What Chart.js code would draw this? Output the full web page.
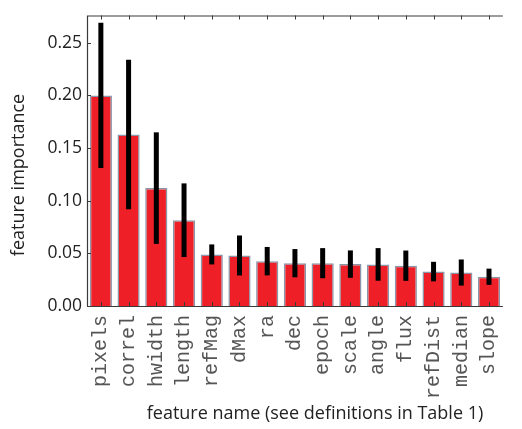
<!DOCTYPE html>
<html>
<head>
<meta charset="utf-8">
<script src="https://cdn.jsdelivr.net/npm/chart.js@4/dist/chart.umd.min.js"></script>
<style>
  html, body { margin: 0; padding: 0; background: #fff; }
  #wrap { width: 522px; height: 429px; }
</style>
</head>
<body>
<div id="wrap"><canvas id="c" width="522" height="429"></canvas></div>
<script>
// Feature names, mean importance and spread (half-length of each error bar)
const features = ['pixels', 'correl', 'hwidth', 'length', 'refMag', 'dMax', 'ra', 'dec',
                  'epoch', 'scale', 'angle', 'flux', 'refDist', 'median', 'slope'];
const importance = [0.200, 0.163, 0.112, 0.0815, 0.049, 0.048, 0.0426, 0.0407,
                    0.0407, 0.0398, 0.0395, 0.0383, 0.0327, 0.0318, 0.0278];
const spread = [0.069, 0.071, 0.053, 0.035, 0.0095, 0.019, 0.0135, 0.0134,
                0.0143, 0.013, 0.0155, 0.0144, 0.0093, 0.0124, 0.0077];
const yTicks = [0.00, 0.05, 0.10, 0.15, 0.20, 0.25];
const xTitle = 'feature name (see definitions in Table 1)';
const yTitle = 'feature importance';

const frameColor = '#3a3a3a';
const sansFont = '"Open Sans", Lato, sans-serif';

// Black error bars centred on each bar
const errorBars = {
  id: 'errorBars',
  afterDatasetsDraw(chart) {
    const ctx = chart.ctx;
    const y = chart.scales.y;
    const meta = chart.getDatasetMeta(0);
    ctx.save();
    ctx.strokeStyle = '#000';
    ctx.lineWidth = 5;
    ctx.lineCap = 'butt';
    meta.data.forEach((bar, i) => {
      const v = importance[i], e = spread[i];
      ctx.beginPath();
      ctx.moveTo(bar.x, y.getPixelForValue(v + e));
      ctx.lineTo(bar.x, y.getPixelForValue(v - e));
      ctx.stroke();
    });
    ctx.restore();
  }
};

// Box frame with small inward ticks, plus the two axis titles
const frame = {
  id: 'frame',
  afterDraw(chart) {
    const ctx = chart.ctx;
    const a = chart.chartArea;
    const x = chart.scales.x, y = chart.scales.y;
    ctx.save();
    ctx.strokeStyle = frameColor;
    ctx.lineWidth = 1.2;
    ctx.beginPath();
    ctx.moveTo(a.left, a.top + 0.5);
    ctx.lineTo(a.right, a.top + 0.5);
    ctx.moveTo(a.left + 0.5, a.top);
    ctx.lineTo(a.left + 0.5, a.bottom);
    ctx.moveTo(a.left, a.bottom + 0.5);
    ctx.lineTo(a.right, a.bottom + 0.5);
    ctx.stroke();
    ctx.lineWidth = 1;
    ctx.beginPath();
    features.forEach((f, i) => {
      const px = Math.round(x.getPixelForValue(i)) + 0.5;
      ctx.moveTo(px, a.top);
      ctx.lineTo(px, a.top + 4);
      ctx.moveTo(px, a.bottom);
      ctx.lineTo(px, a.bottom - 4);
    });
    yTicks.forEach(t => {
      const py = Math.round(y.getPixelForValue(t)) + 0.5;
      ctx.moveTo(a.left, py);
      ctx.lineTo(a.left + 4, py);
    });
    ctx.stroke();

    ctx.fillStyle = '#222';
    ctx.font = '18px ' + sansFont;
    ctx.textAlign = 'center';
    ctx.textBaseline = 'middle';
    ctx.fillText(xTitle, 315, 414);
    ctx.translate(19, 175);
    ctx.rotate(-Math.PI / 2);
    ctx.fillText(yTitle, 0, 0);
    ctx.restore();
  }
};

new Chart(document.getElementById('c'), {
  type: 'bar',
  data: {
    labels: features,
    datasets: [{
      data: importance,
      backgroundColor: '#ee1f26',
      borderColor: '#8a97a8',
      borderWidth: 1.5,
      borderSkipped: 'start',
      barPercentage: 0.8,
      categoryPercentage: 1.0
    }]
  },
  options: {
    responsive: false,
    animation: false,
    devicePixelRatio: 1,
    layout: { padding: { top: 12, right: 0, left: 0, bottom: 0 } },
    plugins: { legend: { display: false }, tooltip: { enabled: false } },
    scales: {
      x: {
        grid: { display: false, drawTicks: false },
        border: { display: false },
        afterFit(s) { s.height = 123; },
        ticks: {
          minRotation: 90,
          maxRotation: 90,
          autoSkip: false,
          padding: 9,
          color: '#555',
          font: { family: '"Liberation Mono", "Courier New", monospace', size: 20 }
        }
      },
      y: {
        min: 0,
        max: 0.276,
        grid: { display: false, drawTicks: false },
        border: { display: false },
        afterFit(s) { s.width = 87; },
        afterBuildTicks(s) { s.ticks = yTicks.map(v => ({ value: v })); },
        ticks: {
          padding: 5,
          color: '#222',
          font: { family: sansFont, size: 17.5 },
          callback: v => Number(v).toFixed(2)
        }
      }
    }
  },
  plugins: [errorBars, frame]
});
</script>
</body>
</html>
